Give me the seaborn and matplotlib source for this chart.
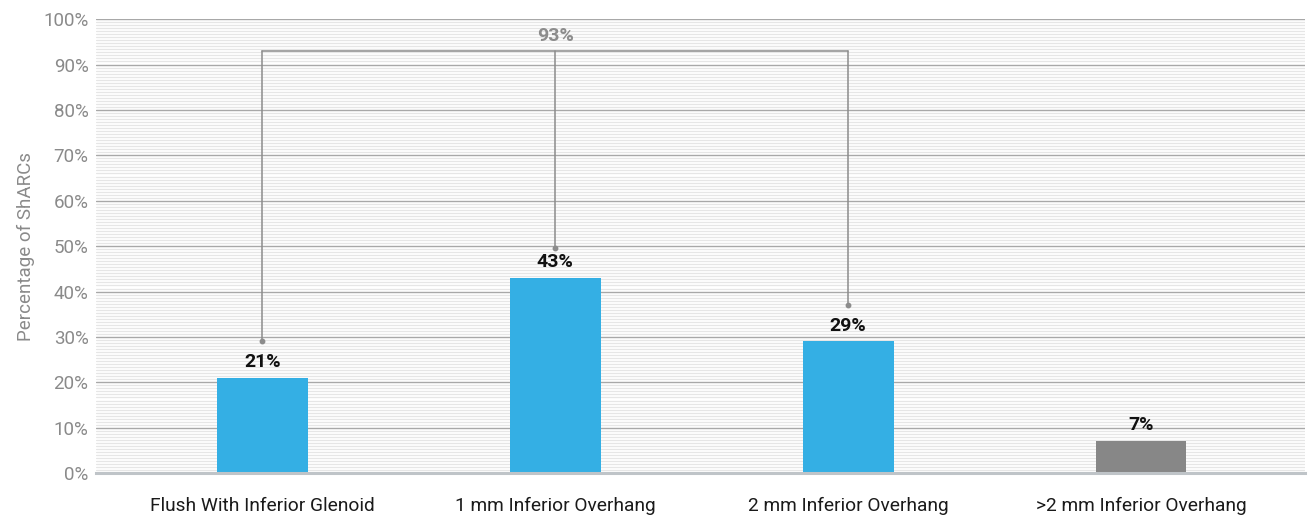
import matplotlib
matplotlib.use("Agg")
import matplotlib.pyplot as plt
from matplotlib.ticker import MultipleLocator, FuncFormatter
import seaborn as sns
import pandas as pd

categories = ["Flush With Inferior Glenoid", "1 mm Inferior Overhang",
              "2 mm Inferior Overhang", ">2 mm Inferior Overhang"]
values = [21, 43, 29, 7]
bar_colors = ["#34AFE4", "#34AFE4", "#34AFE4", "#878787"]
value_labels = ["21%", "43%", "29%", "7%"]

# bracket grouping the first three categories
bracket_total = 93
bracket_label = "93%"
bracket_feet = [29, 49.5, 37]
bracket_idx = [0, 1, 2]

sns.set_theme(style="white")
plt.rcParams["font.family"] = ["Roboto", "DejaVu Sans"]

df = pd.DataFrame({"cat": categories, "val": values})

fig = plt.figure(figsize=(13.09, 5.16), dpi=100)
ax = fig.add_axes([0.073, 0.083, 0.924, 0.88])

sns.barplot(data=df, x="cat", y="val", hue="cat", palette=bar_colors,
            width=0.31, legend=False, ax=ax, saturation=1, zorder=3,
            linewidth=0)

ax.set_ylim(0, 100)
ax.set_xlim(-0.57, 3.56)
ax.yaxis.set_major_locator(MultipleLocator(10))
ax.yaxis.set_minor_locator(MultipleLocator(10 / 15))
ax.yaxis.set_major_formatter(FuncFormatter(lambda v, p: f"{int(v)}%"))
ax.grid(axis="y", which="major", color="#A8A8A8", linewidth=1.0, zorder=0)
ax.grid(axis="y", which="minor", color="#E6E6E6", linewidth=0.9, zorder=0)
ax.set_axisbelow(True)

for s in ["top", "right", "left"]:
    ax.spines[s].set_visible(False)
ax.spines["bottom"].set_color("#BFC4C8")
ax.spines["bottom"].set_linewidth(2.2)
ax.spines["bottom"].set_zorder(4)

ax.tick_params(axis="y", which="both", length=0, labelsize=13.5,
               labelcolor="#8A8A8A", pad=5)
ax.tick_params(axis="x", length=0, labelsize=13.8, labelcolor="#1A1A1A", pad=17)
ax.set_xlabel("")
ax.set_ylabel("Percentage of ShARCs", fontsize=13.5, color="#8A8A8A", labelpad=6)

for i, (v, lab) in enumerate(zip(values, value_labels)):
    ax.annotate(lab, (i, v), xytext=(0, 5), textcoords="offset points",
                ha="center", va="bottom", fontsize=14, fontweight="bold",
                color="#111111", zorder=5)

bc = "#8C8C8C"
for i, foot in zip(bracket_idx, bracket_feet):
    ax.plot([i, i], [foot, bracket_total], color=bc, lw=1.1, zorder=4)
    ax.plot([i], [foot], "o", color=bc, ms=3.2, zorder=4)
ax.plot([bracket_idx[0], bracket_idx[-1]], [bracket_total, bracket_total],
        color=bc, lw=1.1, zorder=4)
ax.text(1, bracket_total + 3.3, bracket_label, ha="center", va="center",
        fontsize=14, fontweight="bold", color="#8C8C8C", zorder=5)

fig.savefig("out.png", dpi=100)
